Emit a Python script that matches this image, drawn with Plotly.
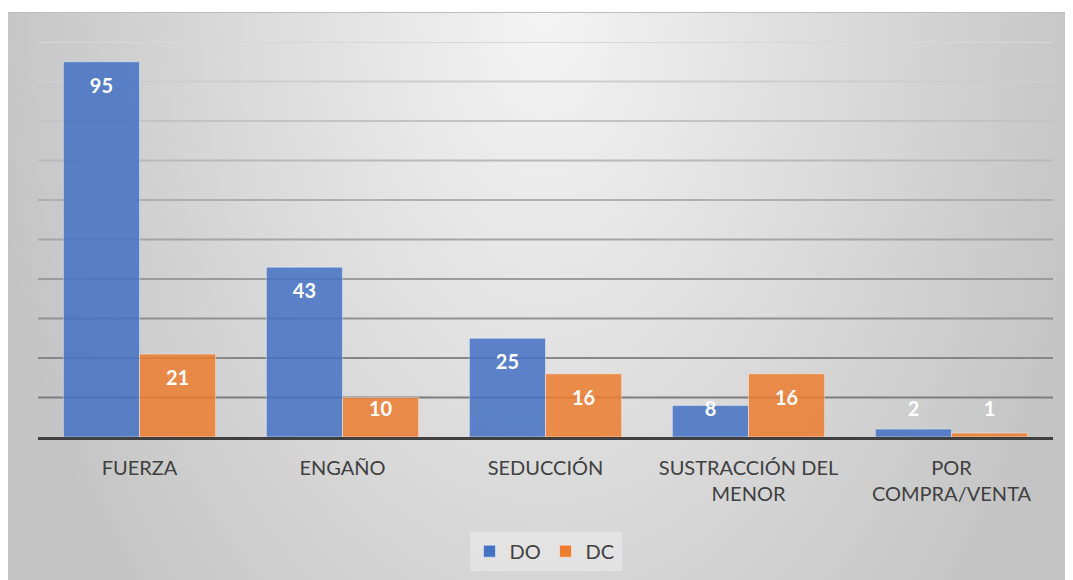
import base64
import plotly.graph_objects as go

categories = ["FUERZA", "ENGAÑO", "SEDUCCIÓN", "SUSTRACCIÓN DEL<br>MENOR", "POR<br>COMPRA/VENTA"]
do_values = [95, 43, 25, 8, 2]
dc_values = [21, 10, 16, 16, 1]
grid_levels = [10, 20, 30, 40, 50, 60, 70, 80, 90, 100]

BLUE = "#4472C4"
ORANGE = "#ED7D31"
FONT = "Lato, Carlito, Calibri, sans-serif"

idx = list(range(len(categories)))
bar_w = 0.375


def label_y(v):
    # Excel "inside end" labels, kept above the baseline for short bars
    return max(v - 6.6, 6.6)


fig = go.Figure()
fig.add_trace(go.Bar(x=idx, y=do_values, name="DO", width=bar_w, offset=-bar_w,
                     marker=dict(color=BLUE, opacity=0.85,
                                 line=dict(color="rgba(255,255,255,0.45)", width=1))))
fig.add_trace(go.Bar(x=idx, y=dc_values, name="DC", width=bar_w, offset=0,
                     marker=dict(color=ORANGE, opacity=0.85,
                                 line=dict(color="rgba(255,255,255,0.45)", width=1))))

for vals, shift in [(do_values, -bar_w / 2), (dc_values, bar_w / 2)]:
    fig.add_trace(go.Scatter(x=[i + shift for i in idx], y=[label_y(v) for v in vals],
                             mode="text", text=[str(v) for v in vals],
                             textfont=dict(family=FONT, size=20, color="white", weight="bold"),
                             showlegend=False, hoverinfo="skip"))

# gridlines getting darker towards the bottom
for lv in grid_levels:
    c = int(125 + (215 - 125) * (lv - 10) / 90)
    fig.add_shape(type="line", xref="paper", x0=0, x1=1, yref="y", y0=lv, y1=lv,
                  line=dict(color=f"rgb({c},{c},{c})", width=2), layer="below")

# gray radial gradient behind the chart
svg = ('<svg xmlns="http://www.w3.org/2000/svg" width="1073" height="576">'
       '<defs><radialGradient id="g" gradientUnits="userSpaceOnUse" cx="536" cy="0" r="560" '
       'gradientTransform="translate(536 0) scale(1 1.6) translate(-536 0)">'
       '<stop offset="0" stop-color="#f4f4f4"/><stop offset="1" stop-color="#c4c4c4"/>'
       '</radialGradient></defs>'
       '<rect width="1073" height="576" fill="url(#g)"/>'
       '<line x1="0" y1="0.5" x2="1073" y2="0.5" stroke="#bdbdbd"/></svg>')
src = "data:image/svg+xml;base64," + base64.b64encode(svg.encode()).decode()

W, H = 1073, 580
ml, mr, mt, mb = 30, 28, 34, 151
pw, ph = W - ml - mr, H - mt - mb
fig.add_layout_image(source=src, xref="paper", yref="paper",
                     x=-ml / pw, y=(H - mb - 4) / ph,
                     sizex=W / pw, sizey=(H - 4) / ph,
                     xanchor="left", yanchor="top", sizing="stretch", layer="below")

fig.update_layout(
    width=W, height=H,
    margin=dict(l=ml, r=mr, t=mt, b=mb),
    paper_bgcolor="white", plot_bgcolor="rgba(0,0,0,0)",
    barmode="group",
    font=dict(family=FONT, color="#404040"),
    legend=dict(orientation="h", x=0.5, xanchor="center", y=-0.289, yanchor="middle",
                bgcolor="rgba(255,255,255,0.3)", font=dict(size=20, color="#404040"),
                traceorder="normal", entrywidth=31),
)
fig.update_xaxes(range=[-0.5, 4.5], tickvals=idx, ticktext=categories, showgrid=False,
                 showline=True, linecolor="#404040", linewidth=3, zeroline=False,
                 ticks="", ticklabelstandoff=11, tickfont=dict(size=20, color="#404040"),
                 fixedrange=True)
fig.update_yaxes(range=[0, 100], showgrid=False, showticklabels=False, zeroline=False,
                 fixedrange=True)

fig.write_html("out.html")
